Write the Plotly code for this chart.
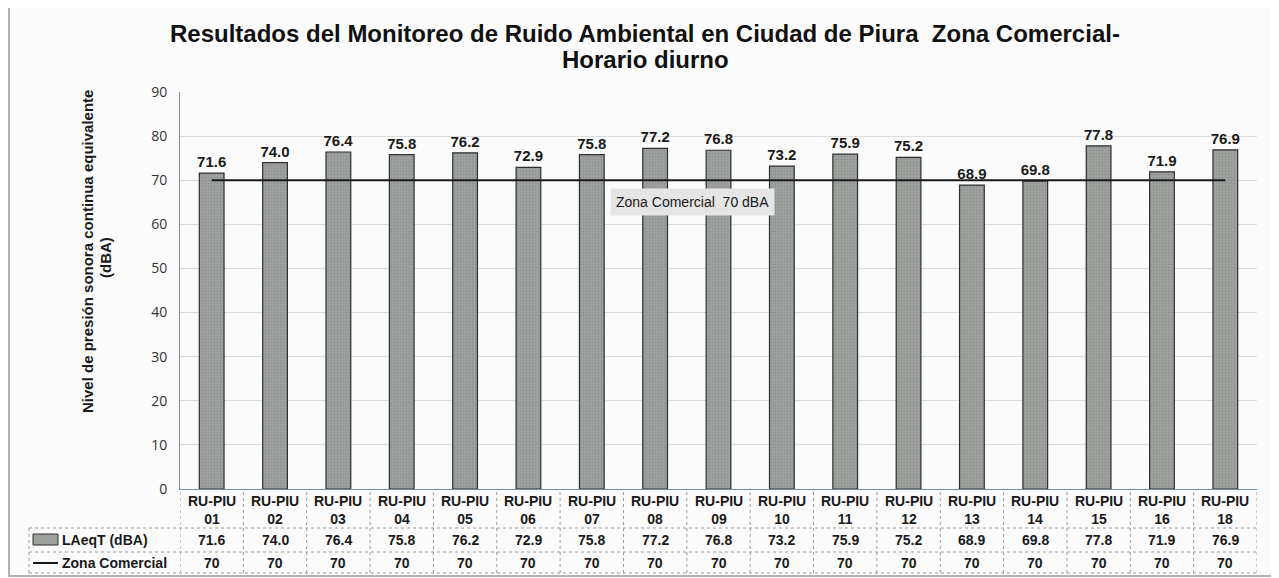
import plotly.graph_objects as go

# ---- data ----
categories = ["RU-PIU<br>01", "RU-PIU<br>02", "RU-PIU<br>03", "RU-PIU<br>04", "RU-PIU<br>05",
              "RU-PIU<br>06", "RU-PIU<br>07", "RU-PIU<br>08", "RU-PIU<br>09", "RU-PIU<br>10",
              "RU-PIU<br>11", "RU-PIU<br>12", "RU-PIU<br>13", "RU-PIU<br>14", "RU-PIU<br>15",
              "RU-PIU<br>16", "RU-PIU<br>18"]
laeq_values = [71.6, 74.0, 76.4, 75.8, 76.2, 72.9, 75.8, 77.2, 76.8, 73.2,
               75.9, 75.2, 68.9, 69.8, 77.8, 71.9, 76.9]
zona_values = [70] * 17
y_ticks = [0, 10, 20, 30, 40, 50, 60, 70, 80, 90]
series_names = ["LAeqT (dBA)", "Zona Comercial"]
title_lines = ["Resultados del Monitoreo de Ruido Ambiental en Ciudad de Piura  Zona Comercial-",
               "Horario diurno"]
ytitle_lines = ["Nivel de presión sonora continua equivalente", "(dBA)"]
limit_label = "Zona Comercial  70 dBA"

# ---- layout geometry (reference-window pixels; page body has an 8px margin) ----
OFF = 8
W, H = 1279 - OFF, 578 - OFF
L, R, T, B = 180, 1257, 92, 489  # plot area in window pixels


def px(x):
    return (x - L) / (R - L)


def py(y):
    return (B - y) / (B - T)


idx = list(range(len(categories)))
fig = go.Figure()

fig.add_trace(go.Bar(
    x=idx, y=laeq_values, name=series_names[0], width=0.39,
    marker=dict(color="#9da19d", line=dict(color="#2e2e2e", width=1.2),
                pattern=dict(shape=".", fgcolor="#777c77", size=3, solidity=0.2)),
    text=[f"<b>{v:.1f}</b>" for v in laeq_values], textposition="outside",
    constraintext="none", textangle=0,
    textfont=dict(family="Arial", size=15, color="#1a1a1a"),
    cliponaxis=False, showlegend=False,
))
fig.add_trace(go.Scatter(
    x=idx, y=zona_values, mode="lines", name=series_names[1],
    line=dict(color="#1a1a1a", width=2), showlegend=False,
))

shapes = []
annotations = []
grid_dot = dict(color="#9a9a9a", width=1, dash="dot")

# outer chart border
shapes.append(dict(type="rect", xref="paper", yref="paper",
                   x0=px(9), x1=px(1272), y0=py(576), y1=py(4),
                   line=dict(color="#9a9a9a", width=1.5)))

# table horizontal lines
for yy in [528, 552, 573]:
    shapes.append(dict(type="line", xref="paper", yref="paper",
                       x0=px(29), x1=px(R), y0=py(yy), y1=py(yy), line=grid_dot))
# table vertical lines
for i in range(len(categories) + 1):
    shapes.append(dict(type="line", xref="x", yref="paper",
                       x0=i - 0.5, x1=i - 0.5, y0=py(573), y1=py(B), line=grid_dot))
shapes.append(dict(type="line", xref="paper", yref="paper",
                   x0=px(29), x1=px(29), y0=py(573), y1=py(528), line=grid_dot))
# legend symbols in table
shapes.append(dict(type="rect", xref="paper", yref="paper",
                   x0=px(33), x1=px(58), y0=py(545), y1=py(534),
                   fillcolor="#9da19d", line=dict(color="#2e2e2e", width=1)))
shapes.append(dict(type="line", xref="paper", yref="paper",
                   x0=px(33), x1=px(58), y0=py(563), y1=py(563),
                   line=dict(color="#1a1a1a", width=2)))

tfont = dict(family="Arial", size=14, color="#1a1a1a")


def ann(**kw):
    base = dict(showarrow=False, xanchor="center", yanchor="middle")
    base.update(kw)
    annotations.append(base)


for i, c in enumerate(categories):
    ann(x=i, y=py(510), xref="x", yref="paper", text=f"<b>{c}</b>", font=tfont, align="center")
    ann(x=i, y=py(540), xref="x", yref="paper", text=f"<b>{laeq_values[i]:.1f}</b>", font=tfont)
    ann(x=i, y=py(563), xref="x", yref="paper", text=f"<b>{zona_values[i]}</b>", font=tfont)
ann(x=px(60), y=py(540), xref="paper", yref="paper", xanchor="left",
    text=f"<b>{series_names[0]}</b>", font=tfont)
ann(x=px(60), y=py(563), xref="paper", yref="paper", xanchor="left",
    text=f"<b>{series_names[1]}</b>", font=tfont)

# title (two lines)
for txt, yy in zip(title_lines, [33, 60]):
    ann(x=px(645), y=py(yy), xref="paper", yref="paper", text=f"<b>{txt}</b>",
        font=dict(family="Arial", size=24, color="#111"))
# y-axis title (two lines)
for txt, xx, yy in zip(ytitle_lines, [88, 105], [252, 258]):
    ann(x=px(xx), y=py(yy), xref="paper", yref="paper", text=f"<b>{txt}</b>",
        textangle=-90, font=dict(family="Arial", size=15, color="#1a1a1a"))
# limit label
ann(x=px(692), y=py(202), xref="paper", yref="paper", text=limit_label,
    bgcolor="#e4e5e4", borderpad=5, font=dict(family="Arial", size=14, color="#1a1a1a"))

fig.update_layout(
    width=W, height=H,
    margin=dict(l=L - OFF, r=W - (R - OFF), t=T - OFF, b=H - (B - OFF)),
    paper_bgcolor="#fbfbfb", plot_bgcolor="#fbfbfb",
    shapes=shapes, annotations=annotations,
    xaxis=dict(range=[-0.5, len(categories) - 0.5], showticklabels=False, showgrid=False,
               zeroline=False, showline=True, linecolor="#6f8fa0", linewidth=1, ticks=""),
    yaxis=dict(range=[0, 90], tickvals=y_ticks, showgrid=True, gridcolor="#dcdcdc",
               zeroline=False, showline=True, linecolor="#8a8a8a", linewidth=1,
               tickfont=dict(family="Open Sans", size=14, color="#333"), ticks="",
               ticklabelstandoff=9),
)

fig.write_html("out.html")
